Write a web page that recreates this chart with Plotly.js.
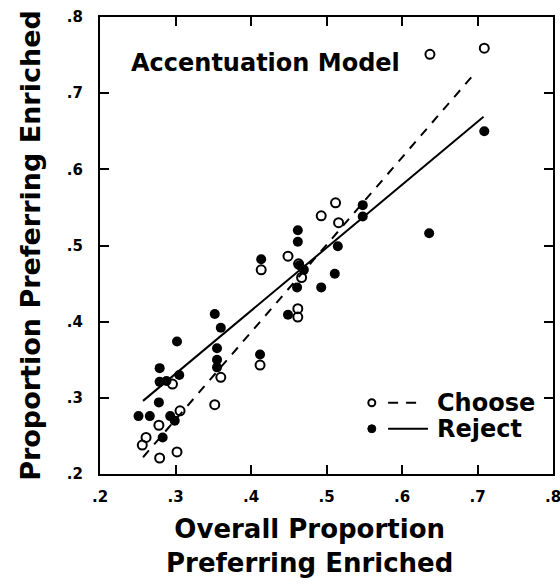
<!DOCTYPE html>
<html>
<head>
<meta charset="utf-8">
<script src="https://cdn.plot.ly/plotly-3.0.1.min.js"></script>
<style>html,body{margin:0;padding:0;background:#fff;}#chart{width:560px;height:588px;}</style>
</head>
<body>
<div id="chart"></div>
<script>
// Choose (open circles)
var chooseX = [0.256,0.261,0.278,0.279,0.296,0.302,0.306,0.352,0.360,0.412,0.4135,0.449,0.462,0.462,0.463,0.467,0.493,0.512,0.516,0.637,0.709];
var chooseY = [0.238,0.248,0.264,0.221,0.318,0.229,0.283,0.291,0.327,0.343,0.468,0.486,0.417,0.406,0.476,0.458,0.539,0.556,0.530,0.751,0.759];
// Reject (filled circles)
var rejectX = [0.251,0.266,0.278,0.279,0.283,0.279,0.288,0.293,0.299,0.302,0.305,0.352,0.355,0.355,0.355,0.360,0.412,0.4135,0.449,0.461,0.462,0.462,0.464,0.470,0.493,0.511,0.515,0.548,0.548,0.636,0.709];
var rejectY = [0.276,0.276,0.294,0.339,0.248,0.321,0.322,0.276,0.270,0.374,0.330,0.410,0.365,0.350,0.340,0.392,0.357,0.482,0.409,0.445,0.520,0.505,0.474,0.468,0.445,0.463,0.499,0.553,0.538,0.516,0.650];
// Fitted lines
var chooseFitX = [0.257, 0.698];
var chooseFitY = [0.222, 0.728];
var rejectFitX = [0.257, 0.708];
var rejectFitY = [0.296, 0.669];
// Ticks
var tickVals = [0.2,0.3,0.4,0.5,0.6,0.7,0.8];
var tickText = ['.2','.3','.4','.5','.6','.7','.8'];

var F = 'DejaVu Sans, Arial, sans-serif';

var traces = [
  {x: chooseFitX, y: chooseFitY, mode:'lines', name:'Choose fit', line:{color:'#000', width:2, dash:'9px,8px'}, showlegend:false, hoverinfo:'skip'},
  {x: rejectFitX, y: rejectFitY, mode:'lines', name:'Reject fit', line:{color:'#000', width:2}, showlegend:false, hoverinfo:'skip'},
  {x: chooseX, y: chooseY, mode:'markers', name:'Choose', marker:{symbol:'circle-open', size:9, color:'#000', line:{width:2, color:'#000'}}, showlegend:false},
  {x: rejectX, y: rejectY, mode:'markers', name:'Reject', marker:{symbol:'circle', size:10, color:'#000'}, showlegend:false}
];

var axisCommon = {
  range:[0.2,0.8], tickvals: tickVals, ticktext: tickText,
  showgrid:false, zeroline:false, showline:true, linecolor:'#000', linewidth:2,
  mirror:'ticks', ticks:'inside', ticklen:9, tickwidth:2, tickcolor:'#000',
  ticklabeloverflow:'allow',
  tickfont:{family:F, size:15, color:'#000', weight:'bold'}
};

var xaxis = Object.assign({}, axisCommon, {ticklabelstandoff: 8});
var yaxis = Object.assign({}, axisCommon, {
  ticklabelstandoff: 12,
  title:{text:'Proportion Preferring Enriched', font:{family:F, size:27, color:'#000', weight:'bold'}, standoff:18}
});

var layout = {
  width:560, height:588,
  margin:{l:100, r:7, t:17, b:114},
  paper_bgcolor:'#fff', plot_bgcolor:'#fff',
  showlegend:false,
  xaxis: xaxis, yaxis: yaxis,
  annotations:[
    {xref:'paper', yref:'paper', x:0.064, y:0.899, xanchor:'left', yanchor:'middle', showarrow:false,
     text:'Accentuation Model', font:{family:F, size:24, color:'#000', weight:'bold'}},
    {xref:'paper', yref:'paper', x:0.463, y:-0.158, xanchor:'center', yanchor:'middle', showarrow:false,
     text:'Overall Proportion<br>Preferring Enriched', font:{family:F, size:26, color:'#000', weight:'bold'}},
    {xref:'paper', yref:'paper', x:0.740, y:0.156, xanchor:'left', yanchor:'middle', showarrow:false,
     text:'Choose', font:{family:F, size:24, color:'#000', weight:'bold'}},
    {xref:'paper', yref:'paper', x:0.740, y:0.099, xanchor:'left', yanchor:'middle', showarrow:false,
     text:'Reject', font:{family:F, size:24, color:'#000', weight:'bold'}}
  ],
  shapes:[
    {type:'circle', xref:'paper', yref:'paper', xsizemode:'pixel', ysizemode:'pixel', xanchor:0.600, yanchor:0.156,
     x0:-3.5, x1:3.5, y0:-3.5, y1:3.5, line:{color:'#000', width:2}, fillcolor:'rgba(0,0,0,0)'},
    {type:'line', xref:'paper', yref:'paper', x0:0.636, x1:0.713, y0:0.156, y1:0.156, line:{color:'#000', width:2, dash:'10px,8px'}},
    {type:'circle', xref:'paper', yref:'paper', xsizemode:'pixel', ysizemode:'pixel', xanchor:0.600, yanchor:0.099,
     x0:-4, x1:4, y0:-4, y1:4, line:{color:'#000', width:1}, fillcolor:'#000'},
    {type:'line', xref:'paper', yref:'paper', x0:0.636, x1:0.724, y0:0.099, y1:0.099, line:{color:'#000', width:2}}
  ]
};

Plotly.newPlot('chart', traces, layout, {displayModeBar:false, staticPlot:true});
</script>
</body>
</html>
